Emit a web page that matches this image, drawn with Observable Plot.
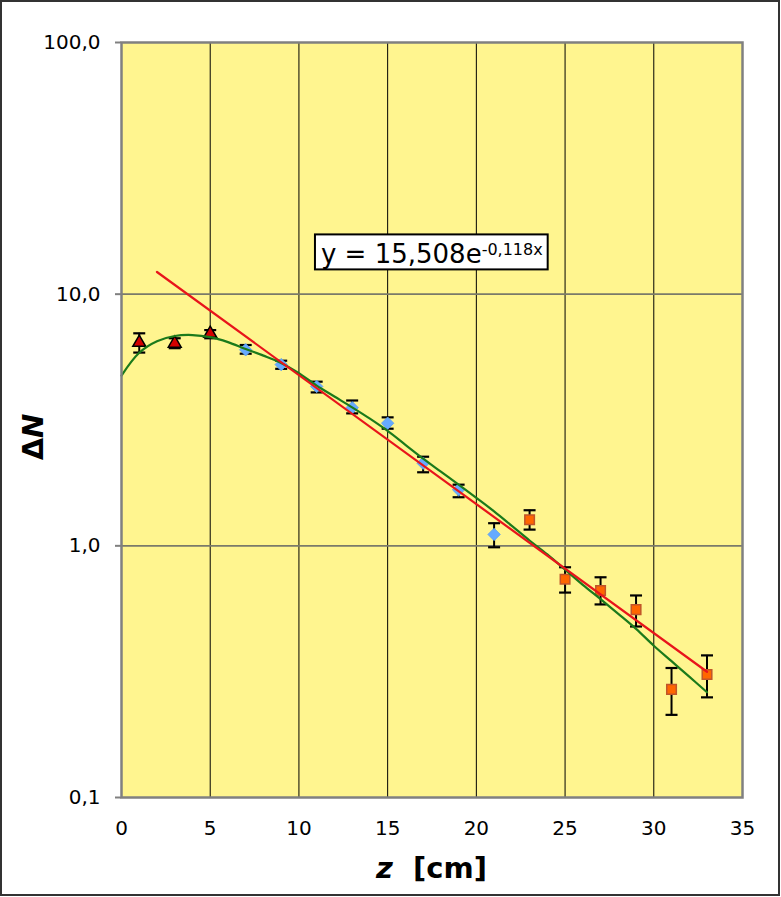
<!DOCTYPE html>
<html><head><meta charset="utf-8">
<script src="https://cdn.jsdelivr.net/npm/d3@7"></script>
<script src="https://cdn.jsdelivr.net/npm/@observablehq/plot@0.6"></script>
<style>
body{margin:0;background:#fff}
#chart{width:781px;height:897px;position:relative}
</style>
</head><body><div id="chart"></div>
<script>
// measured points: z [cm], ΔN, error-bar low/high
const triZ  = [1, 3, 5];
const triN  = [6.42, 6.37, 6.97];
const triLo = [5.86, 6.10, 6.68];
const triHi = [6.99, 6.68, 7.20];

const diaZ  = [7, 9, 11, 13, 15, 17, 19, 21];
const diaN  = [6.01, 5.25, 4.30, 3.54, 3.07, 2.13, 1.67, 1.11];
const diaLo = [5.80, 5.05, 4.07, 3.36, 2.92, 1.96, 1.56, 0.987];
const diaHi = [6.28, 5.44, 4.49, 3.78, 3.24, 2.26, 1.75, 1.23];

const sqZ   = [23, 25, 27, 29, 31, 33];
const sqN   = [1.27, 0.737, 0.664, 0.558, 0.269, 0.308];
const sqLo  = [1.16, 0.652, 0.585, 0.478, 0.213, 0.250];
const sqHi  = [1.385, 0.822, 0.750, 0.635, 0.327, 0.367];

// green fitted curve
const fitZ = [0,1,2,3,4,5,6,7,8,9,10,11,12,13,14,15,16,17,18,19,20,21,22,23,24,25,26,27,28,29,30,31,32,33];
const fitN = [4.75,5.85,6.5,6.82,6.88,6.75,6.45,6.05,5.7,5.33,4.85,4.33,3.92,3.55,3.2,2.86,2.52,2.22,1.97,1.75,1.55,1.37,1.20,1.05,0.925,0.805,0.70,0.614,0.537,0.468,0.401,0.348,0.302,0.262];

// red exponential trendline endpoints
const trendZ = [2, 33];
const trendN = [12.25, 0.316];

const xTicks = [0, 5, 10, 15, 20, 25, 30, 35];
const yTicks = [0.1, 1, 10, 100];
const hGrid = [1, 10];
const vGrid = [5, 10, 15, 20, 25, 30];

const eqMain = "y = 15,508e";
const eqExp = "-0,118x";
const eqAnchor = {z: 11.27, n: 13.19};

const toRows = (Z, N, Lo, Hi) => Z.map((z, i) => ({z, n: N[i], lo: Lo ? Lo[i] : null, hi: Hi ? Hi[i] : null}));
const tri = toRows(triZ, triN, triLo, triHi);
const dia = toRows(diaZ, diaN, diaLo, diaHi);
const sq = toRows(sqZ, sqN, sqLo, sqHi);
const all = [...tri, ...dia, ...sq];
const fit = toRows(fitZ, fitN);
const trend = toRows(trendZ, trendN);

const capSymbol = {draw(ctx, size) { const w = Math.sqrt(size) / 2; ctx.moveTo(-w, 0); ctx.lineTo(w, 0); }};
const capR = 12 / Math.sqrt(Math.PI); // cap width 12px

const font = "DejaVu Sans, Verdana, sans-serif";
const fmt = d => d.toFixed(1).replace(".", ",");

const plot = Plot.plot({
  width: 781, height: 897,
  marginLeft: 121, marginRight: 39, marginTop: 42, marginBottom: 100,
  style: {fontFamily: font, background: "transparent", overflow: "visible"},
  x: {domain: [0, 35]},
  y: {type: "log", domain: [0.1, 100]},
  marks: [
    Plot.frame({fill: "#fff58f", stroke: "none"}),
    Plot.ruleX(vGrid, {stroke: "#000", strokeWidth: 1}),
    Plot.ruleY(hGrid, {stroke: "#7a7a6a", strokeWidth: 1.6}),
    Plot.axisX({ticks: xTicks, tickSize: 0, tickPadding: 23, fontSize: 20, label: null, tickFormat: d => String(d), fill: "#000"}),
    Plot.axisY({ticks: yTicks, tickSize: 6, tickPadding: 15, fontSize: 20, label: null, tickFormat: fmt, stroke: "#808080", strokeWidth: 2, fill: "#000"}),
    // error bars
    Plot.ruleX(all, {x: "z", y1: "lo", y2: "hi", stroke: "#000", strokeWidth: 2}),
    Plot.dot(all, {x: "z", y: "lo", symbol: capSymbol, r: capR, stroke: "#000", strokeWidth: 2.2, fill: "none"}),
    Plot.dot(all, {x: "z", y: "hi", symbol: capSymbol, r: capR, stroke: "#000", strokeWidth: 2.2, fill: "none"}),
    // markers
    Plot.dot(tri, {x: "z", y: "n", symbol: "triangle", r: 4.8, fill: "#d40000", stroke: "#000", strokeWidth: 1.5}),
    Plot.dot(dia, {x: "z", y: "n", symbol: "diamond2", r: 5.6, fill: "#66aaff", stroke: "#5a9ef0", strokeWidth: 0.8}),
    Plot.dot(sq, {x: "z", y: "n", symbol: "square", r: 5.4, fill: "#ff6600", stroke: "#c0552a", strokeWidth: 1.5}),
    // curves
    Plot.line(fit, {x: "z", y: "n", curve: "catmull-rom", stroke: "#1b7a1b", strokeWidth: 2.2}),
    Plot.line(trend, {x: "z", y: "n", stroke: "#e8141b", strokeWidth: 2.2}),
    Plot.frame({stroke: "#808080", strokeWidth: 2.5})
  ]
});

document.getElementById("chart").appendChild(plot);
const svg = d3.select(plot);
const sx = plot.scale("x"), sy = plot.scale("y");

// equation box
const ex = sx.apply(eqAnchor.z), ey = sy.apply(eqAnchor.n);
const g = svg.append("g");
const rect = g.append("rect");
const t = g.append("text").attr("x", ex).attr("y", ey).attr("text-anchor", "start")
  .attr("font-family", font).attr("font-size", 26).attr("fill", "#000");
t.append("tspan").text(eqMain);
t.append("tspan").attr("font-size", 16).attr("dy", -8).text(eqExp);
const bb = t.node().getBBox();
rect.attr("x", bb.x - 6).attr("y", ey - 29).attr("width", bb.width + 11).attr("height", 35)
  .attr("fill", "#fff").attr("stroke", "#000").attr("stroke-width", 2);

// axis titles
const xl = svg.append("text").attr("x", (121 + 742) / 2).attr("y", 878)
  .attr("text-anchor", "middle").attr("font-family", font).attr("font-size", 29).attr("font-weight", "bold");
xl.append("tspan").attr("font-style", "italic").text("z");
xl.append("tspan").text("\u00a0 [cm]");

const yl = svg.append("text").attr("transform", "translate(43,437) rotate(-90)")
  .attr("text-anchor", "middle").attr("font-family", font).attr("font-size", 29).attr("font-weight", "bold");
yl.append("tspan").text("Δ");
yl.append("tspan").attr("font-style", "italic").text("N");

// outer border
svg.append("rect").attr("x", 1).attr("y", 1).attr("width", 778).attr("height", 894)
  .attr("fill", "none").attr("stroke", "#333").attr("stroke-width", 2);
</script>
</body></html>
